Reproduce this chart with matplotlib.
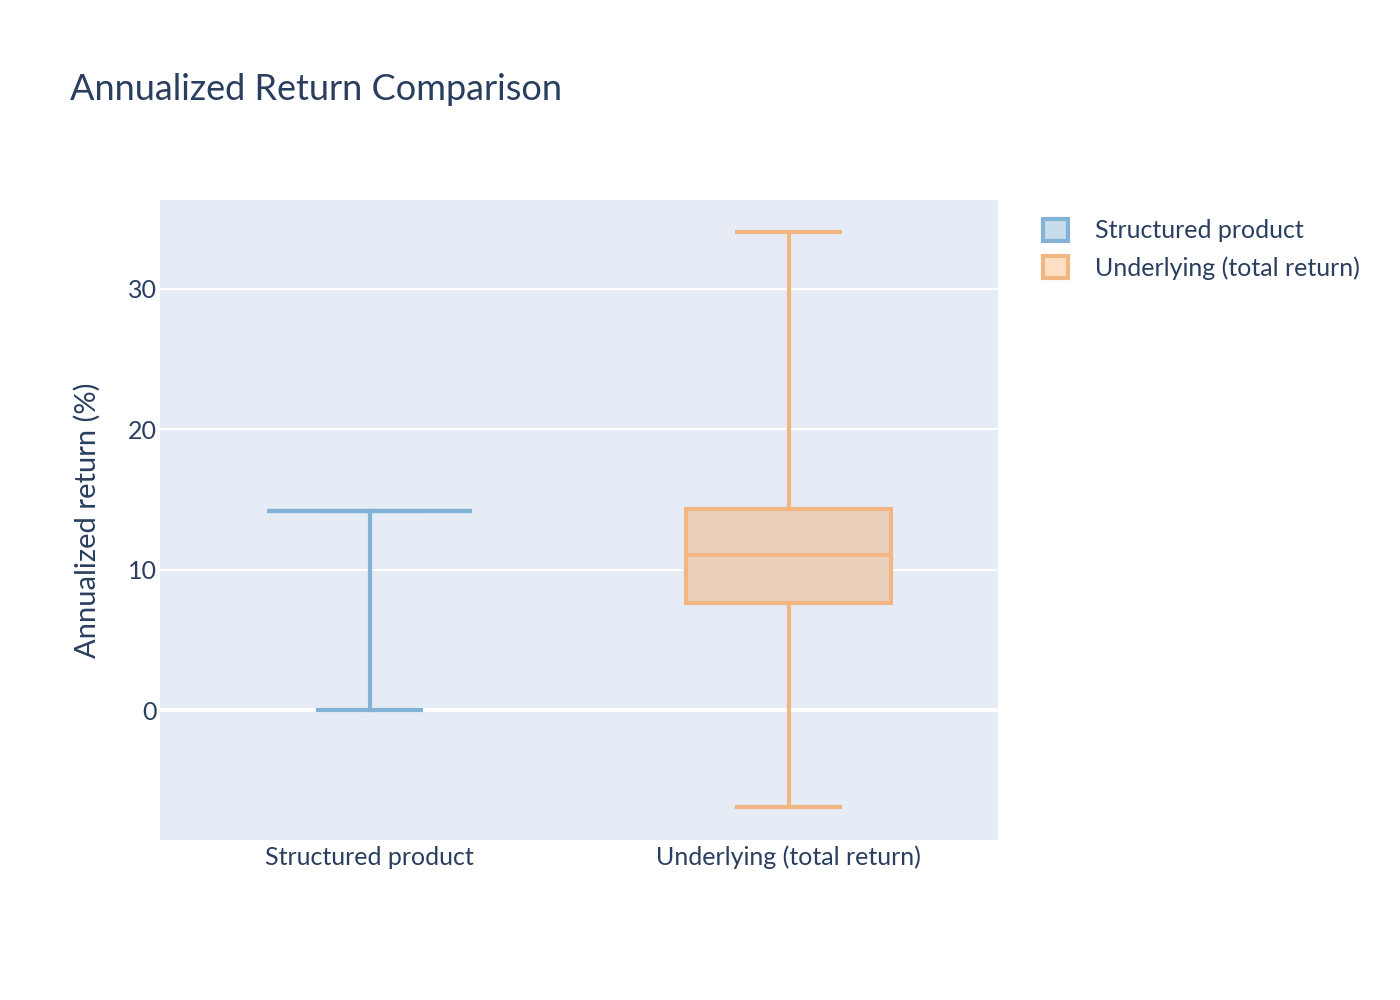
import matplotlib
matplotlib.use("Agg")
import matplotlib.pyplot as plt
from matplotlib.patches import Patch

plt.rcParams['font.family'] = ['Lato', 'DejaVu Sans']

# box statistics (annualized return, %)
names = ["Structured product", "Underlying (total return)"]
whislo = [0.0, -6.9]
q1 = [14.2, 7.6]
med = [14.2, 11.0]
q3 = [14.2, 14.3]
whishi = [14.2, 34.0]

# half-opacity plotly colours, pre-blended on the plot background
line_colors = ["#82b2d5", "#f2b682"]
fill_colors = ["#b4cfe6", "#ebd1bc"]
legend_fill = ["#c7ddec", "#ffdfc3"]
text_c = "#2a3f5f"

fig = plt.figure(figsize=(14, 10), dpi=100)
ax = fig.add_axes([0.1143, 0.16, 0.5986, 0.64])
ax.set_facecolor("#e5ecf6")

stats = []
for i in range(len(names)):
    stats.append(dict(label=names[i], whislo=whislo[i], q1=q1[i], med=med[i],
                      q3=q3[i], whishi=whishi[i], fliers=[]))

for i, s in enumerate(stats):
    lc = line_colors[i]
    ax.bxp([s], positions=[i], widths=0.49, patch_artist=True, showfliers=False,
           boxprops=dict(facecolor=fill_colors[i], edgecolor=lc, linewidth=3),
           medianprops=dict(color=lc, linewidth=3),
           whiskerprops=dict(color=lc, linewidth=3),
           capprops=dict(color=lc, linewidth=3),
           capwidths=0.245, zorder=3)

ax.set_xlim(-0.5, 1.5)
ax.set_ylim(-9.25, 36.3)
ax.set_yticks([0, 10, 20, 30])
ax.set_xticks([0, 1])
ax.set_xticklabels(names)
ax.grid(axis="y", color="white", linewidth=1.5, zorder=0)
ax.axhline(0, color="white", linewidth=3, zorder=1)
ax.set_axisbelow(True)
for sp in ax.spines.values():
    sp.set_visible(False)
ax.tick_params(length=0, labelsize=18, labelcolor=text_c)
ax.tick_params(axis="x", pad=4)
ax.tick_params(axis="y", pad=2)
ax.set_ylabel("Annualized return (%)", fontsize=21, color=text_c, labelpad=20)

fig.text(0.05, 0.91, "Annualized Return Comparison", fontsize=26, color=text_c,
         va="center", ha="left")

handles = [Patch(facecolor=legend_fill[i], edgecolor=line_colors[i], linewidth=3)
           for i in range(len(names))]
fig.legend(handles, names, loc="upper left", bbox_to_anchor=(0.729, 0.804),
           frameon=False, fontsize=18, labelcolor=text_c, handlelength=1.0,
           handleheight=1.0, handletextpad=1.06, labelspacing=0.55)

fig.savefig("out.png")
